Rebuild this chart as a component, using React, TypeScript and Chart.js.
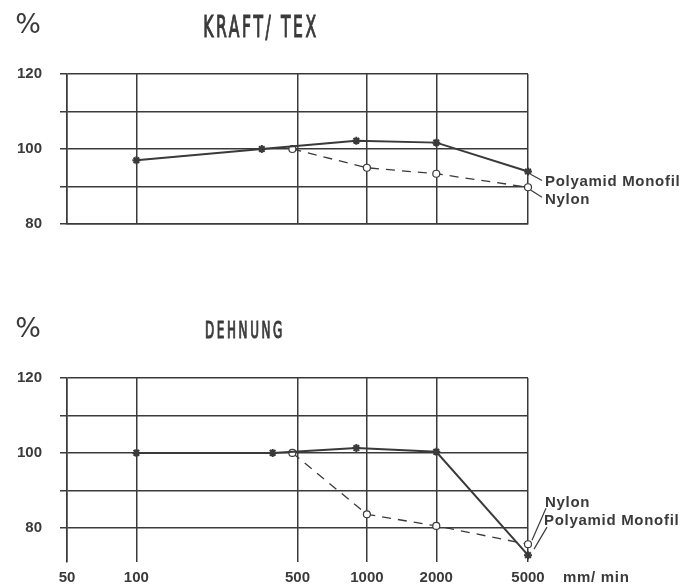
import React, { useEffect, useRef } from 'react';
import { Chart, registerables } from 'chart.js';

Chart.register(...registerables);

// Draw speed (mm/min), logarithmic axis
const speedTicks = [50, 100, 500, 1000, 2000, 5000];
// Relative values in %
const percentTicks = [80, 90, 100, 110, 120];
const labeledPercent = [80, 100, 120];

// KRAFT / TEX
const kraftPolyamidSpeed = [100, 350, 900, 2000, 5000];
const kraftPolyamidValue = [97, 100, 102.2, 101.7, 94];
const kraftNylonSpeed = [475, 1000, 2000, 5000];
const kraftNylonValue = [100, 95, 93.4, 89.8];

// DEHNUNG
const dehnPolyamidSpeed = [100, 390, 900, 2000, 5000];
const dehnPolyamidValue = [100, 100, 101.3, 100.3, 72.7];
const dehnNylonSpeed = [475, 1000, 2000, 5000];
const dehnNylonValue = [100, 83.6, 80.5, 75.6];

const ink = '#3a3a3a';
const labelFont = 'bold 15px "Liberation Sans", Arial, sans-serif';

const toPoints = (xs: number[], ys: number[]) => xs.map((x, i) => ({ x, y: ys[i] }));

type SeriesLabel = {
  dataset: number;
  text: string;
  from: [number, number];
  to: [number, number];
  at: [number, number];
};

type Panel = {
  title: string;
  titleX: number;
  titleSize: number;
  titleBaseline: number;
  percentBaseline: number;
  polyX: number[];
  polyY: number[];
  nylonX: number[];
  nylonY: number[];
  yMin: number;
  showSpeed: boolean;
  top: number;
  height: number;
  padTop: number;
  bottomBand: number;
  labels: SeriesLabel[];
};

const decorPlugin = {
  id: 'panelDecor',
  afterDraw(chart: any, _args: any, opts: any) {
    const ctx: CanvasRenderingContext2D = chart.ctx;
    ctx.save();
    ctx.fillStyle = ink;
    ctx.strokeStyle = ink;

    // percent sign
    ctx.font = '27px "DejaVu Sans", sans-serif';
    ctx.textAlign = 'center';
    ctx.textBaseline = 'alphabetic';
    ctx.fillText('%', 28, opts.percentBaseline);

    // condensed panel title
    ctx.save();
    ctx.translate(opts.titleX, opts.titleBaseline);
    ctx.scale(0.52, 1);
    ctx.font = `${opts.titleSize}px "DejaVu Sans", sans-serif`;
    (ctx as any).letterSpacing = '5px';
    ctx.lineWidth = 1.2;
    ctx.fillText(opts.title, 0, 0);
    ctx.strokeText(opts.title, 0, 0);
    ctx.restore();

    // series names with leader lines
    ctx.font = labelFont;
    (ctx as any).letterSpacing = '0.7px';
    ctx.textAlign = 'left';
    ctx.textBaseline = 'middle';
    ctx.lineWidth = 1.2;
    for (const lab of opts.labels as SeriesLabel[]) {
      const meta = chart.getDatasetMeta(lab.dataset);
      const pt = meta.data[meta.data.length - 1];
      ctx.beginPath();
      ctx.moveTo(pt.x + lab.from[0], pt.y + lab.from[1]);
      ctx.lineTo(pt.x + lab.to[0], pt.y + lab.to[1]);
      ctx.stroke();
      ctx.fillText(lab.text, pt.x + lab.at[0], pt.y + lab.at[1]);
    }

    // unit next to the last speed tick
    if (opts.showSpeed) {
      const xs = chart.scales.x;
      const px = xs.getPixelForValue(5000);
      ctx.fillText('mm/ min', px + 35, chart.chartArea.bottom + 16);
    }
    ctx.restore();
  },
};

function PanelChart({ p }: { p: Panel }) {
  const ref = useRef<HTMLCanvasElement | null>(null);

  useEffect(() => {
    if (!ref.current) return;
    const chart = new Chart(ref.current, {
      type: 'line',
      data: {
        datasets: [
          {
            label: 'Polyamid Monofil',
            data: toPoints(p.polyX, p.polyY),
            borderColor: ink,
            borderWidth: 2,
            pointStyle: 'star',
            pointRadius: 4,
            pointBorderWidth: 2,
            pointBorderColor: ink,
            pointBackgroundColor: ink,
            tension: 0,
            clip: false,
          },
          {
            label: 'Nylon',
            data: toPoints(p.nylonX, p.nylonY),
            borderColor: ink,
            borderWidth: 1.3,
            borderDash: [9, 7],
            pointStyle: 'circle',
            pointRadius: 3.5,
            pointBorderWidth: 1.2,
            pointBorderColor: ink,
            pointBackgroundColor: '#ffffff',
            tension: 0,
            clip: false,
          },
        ],
      },
      options: {
        animation: false,
        responsive: false,
        maintainAspectRatio: false,
        layout: { padding: { top: p.padTop, right: 166, left: 0, bottom: 0 } },
        plugins: {
          legend: { display: false },
          tooltip: { enabled: false },
          panelDecor: {
            title: p.title,
            titleX: p.titleX,
            titleSize: p.titleSize,
            titleBaseline: p.titleBaseline,
            percentBaseline: p.percentBaseline,
            labels: p.labels,
            showSpeed: p.showSpeed,
          },
        } as any,
        scales: {
          x: {
            type: 'logarithmic',
            min: 50,
            max: 5000,
            afterBuildTicks: (s: any) => {
              s.ticks = speedTicks.map((v) => ({ value: v }));
            },
            afterFit: (s: any) => {
              s.height = p.bottomBand;
            },
            grid: { color: ink, lineWidth: 1.5, drawTicks: false },
            border: { display: !p.showSpeed, color: ink, width: 1.5 },
            ticks: {
              display: p.showSpeed,
              autoSkip: false,
              maxRotation: 0,
              padding: 7.5,
              color: ink,
              font: { family: '"Liberation Sans", Arial, sans-serif', size: 15, weight: 'bold' },
              callback: (v: any) => String(v),
            },
          },
          y: {
            type: 'linear',
            min: p.yMin,
            max: 120,
            afterBuildTicks: (s: any) => {
              s.ticks = percentTicks.map((v) => ({ value: v }));
            },
            afterFit: (s: any) => {
              s.width = 67;
              s.paddingTop = 0;
              s.paddingBottom = 0;
            },
            grid: { color: ink, lineWidth: 1.5, drawTicks: true, tickLength: 7 },
            border: { display: true, color: ink, width: 1.5 },
            ticks: {
              padding: 18,
              color: ink,
              font: { family: '"Liberation Sans", Arial, sans-serif', size: 15, weight: 'bold' },
              callback: (v: any) => (labeledPercent.includes(Number(v)) ? String(v) : ''),
            },
          },
        },
      } as any,
      plugins: [decorPlugin],
    });
    return () => chart.destroy();
  }, [p]);

  return (
    <canvas
      ref={ref}
      width={694}
      height={p.height}
      style={{ position: 'absolute', left: 0, top: p.top, width: 694, height: p.height, display: 'block' }}
    />
  );
}

const kraftPanel: Panel = {
  title: 'KRAFT/ TEX',
  titleX: 261,
  titleSize: 30,
  titleBaseline: 37,
  percentBaseline: 33,
  polyX: kraftPolyamidSpeed,
  polyY: kraftPolyamidValue,
  nylonX: kraftNylonSpeed,
  nylonY: kraftNylonValue,
  yMin: 80,
  showSpeed: false,
  top: 0,
  height: 270,
  padTop: 74,
  bottomBand: 46,
  labels: [
    { dataset: 0, text: 'Polyamid Monofil', from: [3, 3], to: [14, 9], at: [17, 10] },
    { dataset: 1, text: 'Nylon', from: [3, 3], to: [14, 10], at: [17, 13] },
  ],
};

const dehnPanel: Panel = {
  title: 'DEHNUNG',
  titleX: 245,
  titleSize: 23,
  titleBaseline: 68,
  percentBaseline: 67,
  polyX: dehnPolyamidSpeed,
  polyY: dehnPolyamidValue,
  nylonX: dehnNylonSpeed,
  nylonY: dehnNylonValue,
  yMin: 71,
  showSpeed: true,
  top: 270,
  height: 315,
  padTop: 108,
  bottomBand: 23.5,
  labels: [
    { dataset: 1, text: 'Nylon', from: [4, -4], to: [18, -36], at: [17, -41] },
    { dataset: 0, text: 'Polyamid Monofil', from: [6, -6], to: [19, -28], at: [16, -34] },
  ],
};

export default function App() {
  return (
    <div style={{ position: 'absolute', left: 0, top: 0, width: 694, height: 585, background: '#ffffff' }}>
      <PanelChart p={kraftPanel} />
      <PanelChart p={dehnPanel} />
    </div>
  );
}
